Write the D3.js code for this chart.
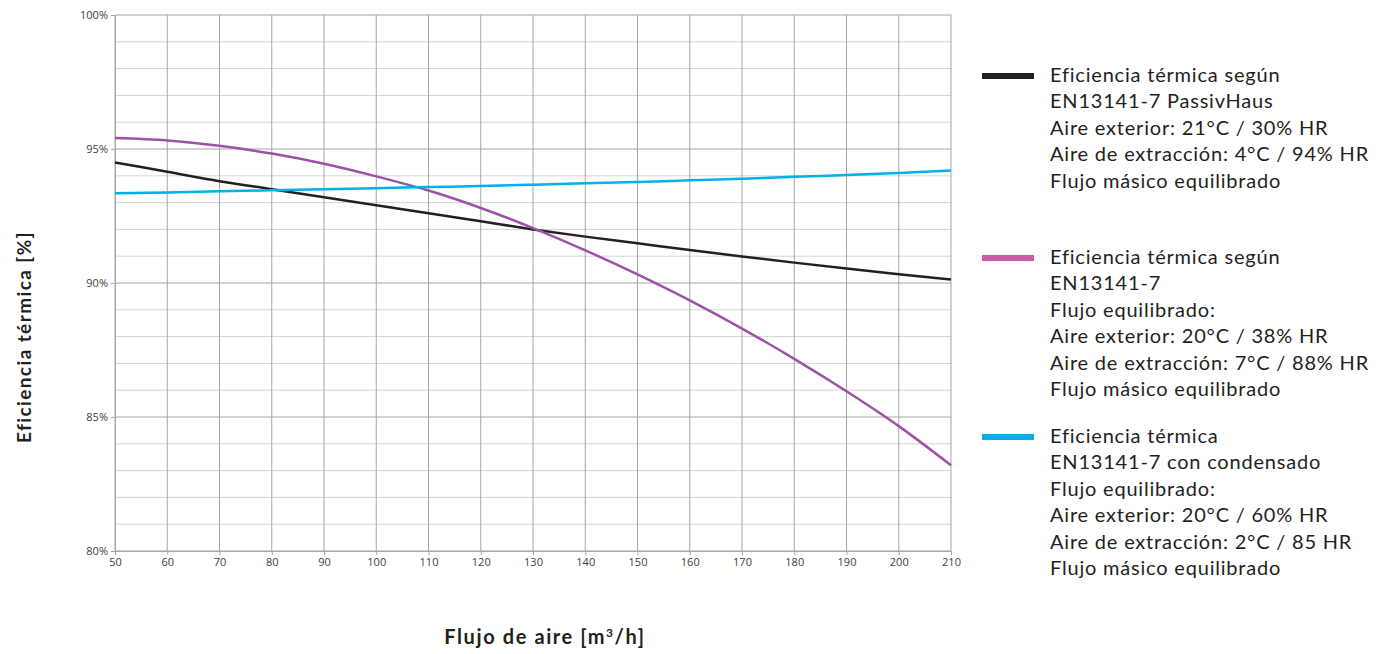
<!DOCTYPE html>
<html>
<head>
<meta charset="utf-8">
<script src="https://cdn.jsdelivr.net/npm/d3@7"></script>
<style>
  body { margin: 0; background: #fff; }
  svg { display: block; font-family: Lato, "Open Sans", sans-serif; }
</style>
</head>
<body>
<svg id="chart" width="1388" height="654"></svg>
<script>
// air flow [m3/h]
let flows = [50, 60, 70, 80, 90, 100, 110, 120, 130, 140, 150, 160, 170, 180, 190, 200, 210];

// thermal efficiency [%] per series
let passivHaus = [94.5, 94.15, 93.8, 93.5, 93.2, 92.9, 92.6, 92.3, 92.0, 91.73, 91.48, 91.23, 90.99, 90.76, 90.54, 90.33, 90.13];
let en13141 = [95.41, 95.32, 95.12, 94.83, 94.45, 93.98, 93.45, 92.8, 92.05, 91.22, 90.32, 89.35, 88.3, 87.17, 85.96, 84.66, 83.2];
let condensado = [93.35, 93.38, 93.42, 93.46, 93.5, 93.54, 93.58, 93.62, 93.67, 93.72, 93.77, 93.83, 93.89, 93.96, 94.03, 94.1, 94.2];

let xTicks = [50, 60, 70, 80, 90, 100, 110, 120, 130, 140, 150, 160, 170, 180, 190, 200, 210];
let yTicks = [80, 85, 90, 95, 100];
let yMinor = [81, 82, 83, 84, 86, 87, 88, 89, 91, 92, 93, 94, 96, 97, 98, 99];

let legendItems = [
    { values: passivHaus, line: '#231f20', swatch: '#231f20', y: 76,
      text: ['Eficiencia térmica según', 'EN13141-7 PassivHaus', 'Aire exterior: 21°C / 30% HR', 'Aire de extracción: 4°C / 94% HR', 'Flujo másico equilibrado'] },
    { values: en13141, line: '#9d51a7', swatch: '#c95ba2', y: 258,
      text: ['Eficiencia térmica según', 'EN13141-7', 'Flujo equilibrado:', 'Aire exterior: 20°C / 38% HR', 'Aire de extracción: 7°C / 88% HR', 'Flujo másico equilibrado'] },
    { values: condensado, line: '#00b0eb', swatch: '#00b0eb', y: 437,
      text: ['Eficiencia térmica', 'EN13141-7 con condensado', 'Flujo equilibrado:', 'Aire exterior: 20°C / 60% HR', 'Aire de extracción: 2°C / 85 HR', 'Flujo másico equilibrado'] }
];

let svg = d3.select('#chart');
let plotLeft = 115, plotRight = 951, plotTop = 15, plotBottom = 551;

let x = d3.scaleLinear().domain([50, 210]).range([plotLeft, plotRight]);
let y = d3.scaleLinear().domain([80, 100]).range([plotBottom, plotTop]);

// minor horizontal grid
svg.append('g')
    .selectAll('line')
    .data(yMinor)
    .enter()
    .append('line')
    .attr('x1', plotLeft).attr('x2', plotRight)
    .attr('y1', (d) => y(d)).attr('y2', (d) => y(d))
    .attr('stroke', '#d4d4d4')
    .attr('stroke-width', 1);

// major horizontal grid
svg.append('g')
    .selectAll('line')
    .data(yTicks)
    .enter()
    .append('line')
    .attr('x1', plotLeft).attr('x2', plotRight)
    .attr('y1', (d) => y(d)).attr('y2', (d) => y(d))
    .attr('stroke', '#a6a6a6')
    .attr('stroke-width', 1);

// vertical grid
svg.append('g')
    .selectAll('line')
    .data(xTicks)
    .enter()
    .append('line')
    .attr('x1', (d) => x(d)).attr('x2', (d) => x(d))
    .attr('y1', plotTop).attr('y2', plotBottom)
    .attr('stroke', '#a6a6a6')
    .attr('stroke-width', 1);

// axes
let xAxis = svg.append('g')
    .attr('transform', `translate(0,${plotBottom})`)
    .call(d3.axisBottom(x).tickValues(xTicks).tickSize(4).tickPadding(3));
let yAxis = svg.append('g')
    .attr('transform', `translate(${plotLeft},0)`)
    .call(d3.axisLeft(y).tickValues(yTicks).tickSize(4).tickPadding(3).tickFormat((d) => d + '%'));

[xAxis, yAxis].forEach((a) => {
    a.select('.domain').attr('stroke', '#a6a6a6');
    a.selectAll('.tick line').attr('stroke', '#a6a6a6');
    a.selectAll('.tick text')
        .attr('fill', '#404040')
        .style('font-family', '"Open Sans", sans-serif')
        .style('font-size', '11px');
});

// series lines
let line = d3.line()
    .x((d, i) => x(flows[i]))
    .y((d) => y(d))
    .curve(d3.curveMonotoneX);

legendItems.forEach((item) => {
    svg.append('path')
        .datum(item.values)
        .attr('d', line)
        .attr('fill', 'none')
        .attr('stroke', item.line)
        .attr('stroke-width', 2.5);
});

// legend
let legend = svg.append('g');
legendItems.forEach((item) => {
    legend.append('rect')
        .attr('x', 982).attr('y', item.y - 3)
        .attr('width', 52).attr('height', 6)
        .attr('fill', item.swatch);
    legend.append('g')
        .selectAll('text')
        .data(item.text)
        .enter()
        .append('text')
        .attr('x', 1050)
        .attr('y', (d, i) => item.y + 6 + i * 26.4)
        .attr('fill', '#231f20')
        .style('font-size', '20px')
        .style('letter-spacing', '0.8px')
        .text((d) => d);
});

// axis titles
svg.append('text')
    .attr('transform', 'translate(31,337) rotate(-90)')
    .attr('text-anchor', 'middle')
    .attr('fill', '#231f20')
    .style('font-size', '19px')
    .style('font-weight', 'bold')
    .style('letter-spacing', '1.4px')
    .text('Eficiencia térmica [%]');

let xt = svg.append('text')
    .attr('x', 545).attr('y', 644)
    .attr('text-anchor', 'middle')
    .attr('fill', '#231f20')
    .style('font-size', '20px')
    .style('font-weight', 'bold')
    .style('letter-spacing', '1.6px');
xt.append('tspan').text('Flujo de aire [m');
xt.append('tspan').attr('dy', -7).style('font-size', '12px').text('3');
xt.append('tspan').attr('dy', 7).text('/h]');
</script>
</body>
</html>
